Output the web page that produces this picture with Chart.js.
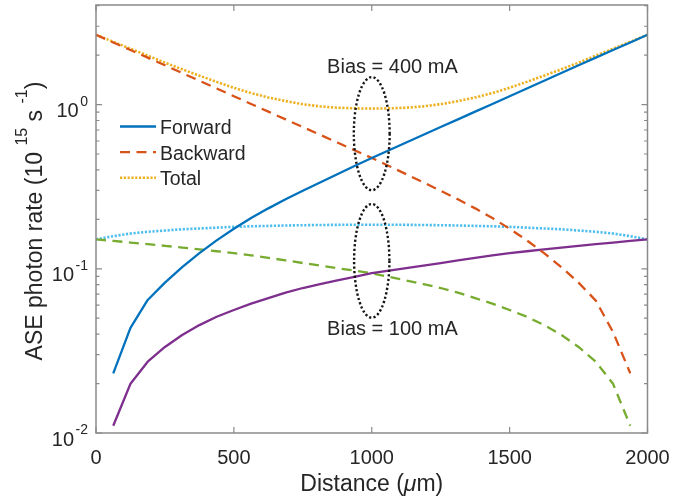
<!DOCTYPE html>
<html>
<head>
<meta charset="utf-8">
<script src="https://cdn.jsdelivr.net/npm/chart.js@4.4.0/dist/chart.umd.min.js"></script>
<style>
  html, body { margin: 0; padding: 0; background: #ffffff; }
  canvas { display: block; }
</style>
</head>
<body>
<canvas id="ase" width="698" height="503"></canvas>
<script>
// Position along the device (um)
const distance = [0, 62.5, 125, 187.5, 250, 312.5, 375, 437.5, 500, 562.5, 625, 687.5, 750, 812.5, 875, 937.5,
  1000, 1062.5, 1125, 1187.5, 1250, 1312.5, 1375, 1437.5, 1500, 1562.5, 1625, 1687.5, 1750, 1812.5, 1875, 1937.5, 2000];

// ASE photon rate, 1e15 s^-1 — bias 400 mA
const forward400 = [null, 0.0231, 0.0437, 0.0646, 0.0824, 0.1023, 0.1245, 0.1489, 0.1754, 0.2037, 0.2333, 0.2649,
  0.2985, 0.3357, 0.3767, 0.4227, 0.4732, 0.5272, 0.5875, 0.6546, 0.7295, 0.8128, 0.9057, 1.009, 1.125, 1.253,
  1.396, 1.556, 1.734, 1.932, 2.148, 2.388, 2.661];
const backward400 = [2.661, 2.388, 2.148, 1.932, 1.734, 1.556, 1.396, 1.253, 1.125, 1.009, 0.9057, 0.8128, 0.7295,
  0.6546, 0.5875, 0.5272, 0.4732, 0.4227, 0.3767, 0.3357, 0.2985, 0.2649, 0.2333, 0.2037, 0.1754, 0.1489, 0.1245,
  0.1023, 0.0824, 0.0640, 0.0412, 0.0231, null];
const total400 = [2.661, 2.411, 2.187, 1.988, 1.80, 1.64, 1.50, 1.375, 1.265, 1.175, 1.105, 1.05, 1.005, 0.975,
  0.957, 0.948, 0.945, 0.948, 0.957, 0.975, 1.005, 1.05, 1.105, 1.175, 1.265, 1.375, 1.50, 1.64, 1.80, 1.988,
  2.187, 2.411, 2.661];

// ASE photon rate, 1e15 s^-1 — bias 100 mA
const forward100 = [null, 0.01107, 0.01995, 0.02716, 0.03342, 0.03954, 0.04539, 0.05105, 0.05610, 0.06138, 0.06622,
  0.07161, 0.07638, 0.08054, 0.08492, 0.08933, 0.09397, 0.09750, 0.1009, 0.1045, 0.1084, 0.1125, 0.1167, 0.1208,
  0.1245, 0.1279, 0.1312, 0.1346, 0.1380, 0.1413, 0.1445, 0.1479, 0.1510];
const backward100 = [0.1510, 0.1479, 0.1445, 0.1413, 0.1380, 0.1346, 0.1312, 0.1279, 0.1245, 0.1208, 0.1167, 0.1125,
  0.1084, 0.1045, 0.1009, 0.09750, 0.09397, 0.08933, 0.08492, 0.08054, 0.07638, 0.07161, 0.06622, 0.06138, 0.05610,
  0.05105, 0.04539, 0.03954, 0.03342, 0.02716, 0.01995, 0.01107, null];
const total100 = [0.151, 0.158, 0.164, 0.168, 0.171, 0.174, 0.176, 0.178, 0.180, 0.1815, 0.1825, 0.1835, 0.1842,
  0.1848, 0.1852, 0.1855, 0.1856, 0.1855, 0.1852, 0.1848, 0.1842, 0.1835, 0.1825, 0.1815, 0.180, 0.178, 0.176,
  0.174, 0.171, 0.168, 0.164, 0.158, 0.151];

// Axis ticks and labels
const xTicks = [0, 500, 1000, 1500, 2000];
const yTickExponents = [-2, -1, 0];
const seriesNames = ['Forward', 'Backward', 'Total'];
const xTitle = ['Distance (', 'μ', 'm)'];
const yTitle = ['ASE photon rate (10 ', '15', ' s ', '-1', ')'];
const biasLabels = ['Bias = 400 mA', 'Bias = 100 mA'];

// ---- drawing setup ----
const FONT = '"Liberation Sans", Arial, Helvetica, sans-serif';
const TEXT = '#262626';
const FRAME = '#8a8a8a';
const COLORS = { blue: '#0072BD', orange: '#D95319', yellow: '#EDB120', purple: '#7E2F8E', green: '#77AC30', cyan: '#4DBEEE' };
const SOLID = [], DASHED = [10, 6.5], DOTTED = [2.2, 1.6];

function pts(arr) { return distance.map((x, i) => ({ x: x, y: arr[i] })); }
function ds(label, arr, color, dash) {
  return { label: label, data: pts(arr), borderColor: color, backgroundColor: color, borderDash: dash,
           borderWidth: dash === DOTTED ? 2.6 : 2.3, pointRadius: 0, tension: 0, fill: false, spanGaps: false };
}

// Bias groups circled with dotted ellipses (data coordinates)
const groupRings = [
  { x: 1000, halfWidth: 65, top: 1.47, bottom: 0.301 },
  { x: 1000, halfWidth: 64, top: 0.248, bottom: 0.0504 }
];
const biasLabelAnchors = [ { x: 1075, y: 1.556 }, { x: 1075, y: 0.0395 } ];

const framePlugin = {
  id: 'frameAndText',
  afterDatasetsDraw(chart) {
    const ctx = chart.ctx, xs = chart.scales.x, ys = chart.scales.y, a = chart.chartArea;
    ctx.save();

    // dotted ellipses
    ctx.strokeStyle = '#141414';
    ctx.lineWidth = 2.4;
    ctx.setLineDash([2.2, 2.3]);
    groupRings.forEach(r => {
      const cx = xs.getPixelForValue(r.x);
      const rx = xs.getPixelForValue(r.x + r.halfWidth) - cx;
      const t = ys.getPixelForValue(r.top), b = ys.getPixelForValue(r.bottom);
      ctx.beginPath();
      ctx.ellipse(cx, (t + b) / 2, rx, (b - t) / 2, 0, 0, Math.PI * 2);
      ctx.stroke();
    });
    ctx.setLineDash([]);

    // bias labels
    ctx.fillStyle = TEXT;
    ctx.font = '20px ' + FONT;
    ctx.textAlign = 'center';
    ctx.textBaseline = 'alphabetic';
    biasLabels.forEach((s, i) => {
      ctx.fillText(s, xs.getPixelForValue(biasLabelAnchors[i].x), ys.getPixelForValue(biasLabelAnchors[i].y));
    });

    // legend (first three series)
    const lx0 = 120, lx1 = 156, ly0 = 126.5, lstep = 25.6;
    chart.data.datasets.slice(0, 3).forEach((d, i) => {
      const y = ly0 + i * lstep;
      ctx.strokeStyle = d.borderColor;
      ctx.lineWidth = d.borderWidth;
      ctx.setLineDash(d.borderDash);
      ctx.beginPath(); ctx.moveTo(lx0, y); ctx.lineTo(lx1, y); ctx.stroke();
      ctx.setLineDash([]);
      ctx.fillStyle = TEXT;
      ctx.font = '19.5px ' + FONT;
      ctx.textAlign = 'left';
      ctx.fillText(seriesNames[i], 160, y + 7.5);
    });

    // axes box
    ctx.strokeStyle = FRAME;
    ctx.lineWidth = 1.5;
    ctx.strokeRect(a.left, a.top, a.right - a.left, a.bottom - a.top);

    // x ticks (bottom and top, pointing inward)
    ctx.lineWidth = 1.2;
    ctx.beginPath();
    xTicks.forEach(v => {
      const px = xs.getPixelForValue(v);
      ctx.moveTo(px, a.bottom); ctx.lineTo(px, a.bottom - 6);
      ctx.moveTo(px, a.top); ctx.lineTo(px, a.top + 6);
    });
    // y ticks, major and minor, left and right
    const ymax = ys.max;
    yTickExponents.forEach(e => {
      for (let m = 1; m <= 9; m++) {
        const v = m * Math.pow(10, e);
        if (v > ymax) break;
        const py = ys.getPixelForValue(v);
        const len = m === 1 ? 6 : 3.5;
        ctx.moveTo(a.left, py); ctx.lineTo(a.left + len, py);
        ctx.moveTo(a.right, py); ctx.lineTo(a.right - len, py);
      }
    });
    ctx.stroke();

    // x tick labels
    ctx.fillStyle = TEXT;
    ctx.font = '20px ' + FONT;
    ctx.textAlign = 'center';
    xTicks.forEach(v => ctx.fillText(String(v), xs.getPixelForValue(v), a.bottom + 30.5));

    // y tick labels: 10 with raised exponent
    ctx.textAlign = 'left';
    yTickExponents.forEach(e => {
      const py = ys.getPixelForValue(Math.pow(10, e));
      const sup = String(e);
      ctx.font = '14px ' + FONT;
      const sw = ctx.measureText(sup).width;
      ctx.font = '20px ' + FONT;
      const bw = ctx.measureText('10').width;
      const right = a.left - 8;
      ctx.fillText('10', right - sw - 1.5 - bw, py + 12.5);
      ctx.font = '14px ' + FONT;
      ctx.fillText(sup, right - sw, py + 1);
    });

    // x title
    ctx.font = '23px ' + FONT;
    const w0 = ctx.measureText(xTitle[0]).width;
    ctx.font = 'italic 23px ' + FONT;
    const w1 = ctx.measureText(xTitle[1]).width;
    ctx.font = '23px ' + FONT;
    const w2 = ctx.measureText(xTitle[2]).width;
    let tx = (a.left + a.right) / 2 - (w0 + w1 + w2) / 2;
    const tb = 491;
    ctx.fillText(xTitle[0], tx, tb); tx += w0;
    ctx.font = 'italic 23px ' + FONT;
    ctx.fillText(xTitle[1], tx, tb); tx += w1;
    ctx.font = '23px ' + FONT;
    ctx.fillText(xTitle[2], tx, tb);

    // y title, rotated, with superscripts
    const parts = yTitle.map((s, i) => ({ s: s, sup: i === 1 || i === 3 }));
    let total = 0;
    parts.forEach(p => { ctx.font = (p.sup ? '16px ' : '23px ') + FONT; p.w = ctx.measureText(p.s).width; total += p.w; });
    ctx.translate(42, 221);
    ctx.rotate(-Math.PI / 2);
    let ox = -total / 2;
    parts.forEach(p => {
      ctx.font = (p.sup ? '16px ' : '23px ') + FONT;
      ctx.fillText(p.s, ox, p.sup ? -15 : 0);
      ox += p.w;
    });

    ctx.restore();
  }
};

new Chart(document.getElementById('ase').getContext('2d'), {
  type: 'line',
  data: {
    datasets: [
      ds('Forward', forward400, COLORS.blue, SOLID),
      ds('Backward', backward400, COLORS.orange, DASHED),
      ds('Total', total400, COLORS.yellow, DOTTED),
      ds('Forward 100 mA', forward100, COLORS.purple, SOLID),
      ds('Backward 100 mA', backward100, COLORS.green, DASHED),
      ds('Total 100 mA', total100, COLORS.cyan, DOTTED)
    ]
  },
  options: {
    responsive: false,
    animation: false,
    devicePixelRatio: 1,
    layout: { padding: { left: 96, right: 50.5, top: 5, bottom: 70 } },
    plugins: { legend: { display: false }, tooltip: { enabled: false } },
    elements: { point: { radius: 0 }, line: { borderCapStyle: 'butt', borderJoinStyle: 'round' } },
    scales: {
      x: { type: 'linear', min: 0, max: 2000, display: false },
      y: { type: 'logarithmic', min: 0.01, max: 4.04, display: false }
    }
  },
  plugins: [framePlugin]
});
</script>
</body>
</html>
